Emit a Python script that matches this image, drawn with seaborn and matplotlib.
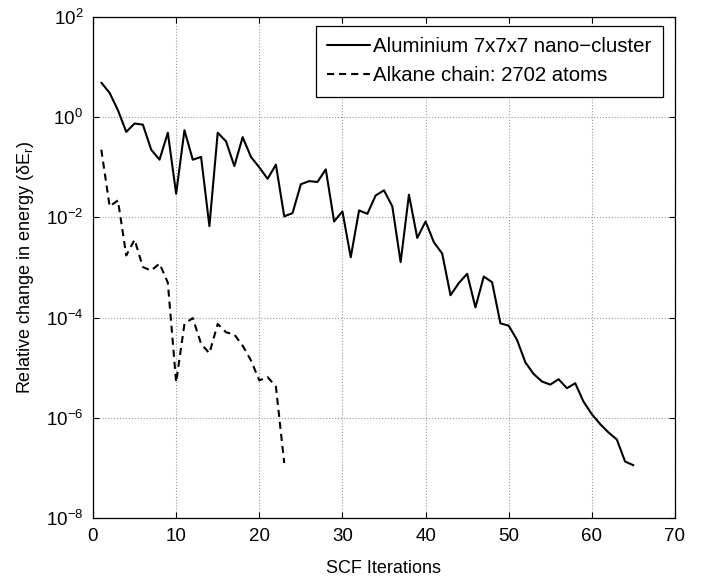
import numpy as np
import pandas as pd
import matplotlib
matplotlib.use('Agg')
import matplotlib.pyplot as plt
import seaborn as sns

# values (log y axis)
iterations_al = list(range(1, 66))
energy_al = [4.9, 3.06, 1.38, 0.51, 0.75, 0.71, 0.225, 0.142, 0.49, 0.0297,
             0.55, 0.142, 0.161, 0.0067, 0.49, 0.33, 0.106, 0.40, 0.161, 0.10,
             0.059, 0.113, 0.0105, 0.0122, 0.046, 0.053, 0.051, 0.091, 0.0083, 0.0132,
             0.0016, 0.0138, 0.0118, 0.0275, 0.0347, 0.0166, 0.00128, 0.0284, 0.0039, 0.0083,
             0.0032, 0.0019, 0.00028, 0.00049, 0.00075, 0.00016, 0.00066, 0.00051, 7.7e-5, 6.9e-5,
             3.6e-5, 1.28e-5, 7.5e-6, 5.3e-6, 4.6e-6, 5.9e-6, 3.9e-6, 4.9e-6, 2.1e-6, 1.18e-6,
             7.5e-7, 5.1e-7, 3.7e-7, 1.34e-7, 1.13e-7]

iterations_alk = list(range(1, 24))
energy_alk = [0.225, 0.0166, 0.0219, 0.00174, 0.0036, 0.00102, 0.00087, 0.0012, 0.0005, 5.1e-6,
              7.5e-5, 9.8e-5, 3.0e-5, 1.94e-5, 7.5e-5, 5.1e-5, 4.6e-5, 2.75e-5, 1.4e-5, 5.6e-6,
              6.5e-6, 4.2e-6, 1.25e-7]

label_al = 'Aluminium 7x7x7 nano\u2212cluster'
label_alk = 'Alkane chain: 2702 atoms'
x_ticks = [0, 10, 20, 30, 40, 50, 60, 70]
y_exponents = [-8, -6, -4, -2, 0, 2]


def main():
    sns.set_theme(style='white', rc={
        'xtick.direction': 'in', 'ytick.direction': 'in',
        'xtick.top': True, 'ytick.right': True,
        'xtick.bottom': True, 'ytick.left': True,
        'axes.edgecolor': 'black', 'axes.linewidth': 0.9,
        'text.color': 'black', 'axes.labelcolor': 'black',
        'xtick.color': 'black', 'ytick.color': 'black',
    })
    plt.rcParams['font.family'] = ['Liberation Sans', 'DejaVu Sans']

    fig = plt.figure(figsize=(7.04, 5.85), dpi=100)
    ax = fig.add_axes([0.1321, 0.1145, 0.8267, 0.8564])

    sns.lineplot(x=iterations_al, y=energy_al, ax=ax, color='black',
                 linewidth=1.5, label=label_al)
    sns.lineplot(x=iterations_alk, y=energy_alk, ax=ax, color='black',
                 linewidth=1.5, linestyle=(0, (3.4, 2.4)), label=label_alk)

    ax.set_yscale('log')
    ax.set_xlim(0, 70)
    ax.set_ylim(1e-8, 1e2)
    ax.set_xticks(x_ticks)
    ax.set_yticks([10.0 ** e for e in y_exponents])
    ax.set_yticklabels([r'$\mathregular{10^{%d}}$' % e for e in y_exponents])
    ax.minorticks_off()
    ax.tick_params(axis='both', which='major', length=4.5, width=0.8,
                   labelsize=13.5, pad=7)

    ax.grid(True, which='major', linestyle=':', color='0.6', linewidth=0.8)

    ax.set_xlabel('SCF Iterations', fontsize=13, labelpad=11)
    ax.set_ylabel(r'Relative change in energy ($\mathregular{\delta E_r}$)',
                  fontsize=13, labelpad=7)

    leg = ax.legend(loc='upper right', bbox_to_anchor=(0.979, 0.982),
                    borderaxespad=0, frameon=True, fancybox=False,
                    edgecolor='black', framealpha=1, fontsize=14.7,
                    handlelength=2.1, handletextpad=0.15, borderpad=0.55,
                    labelspacing=0.5)
    leg.get_frame().set_linewidth(0.9)

    fig.savefig('out.png', dpi=100)


if __name__ == '__main__':
    main()
